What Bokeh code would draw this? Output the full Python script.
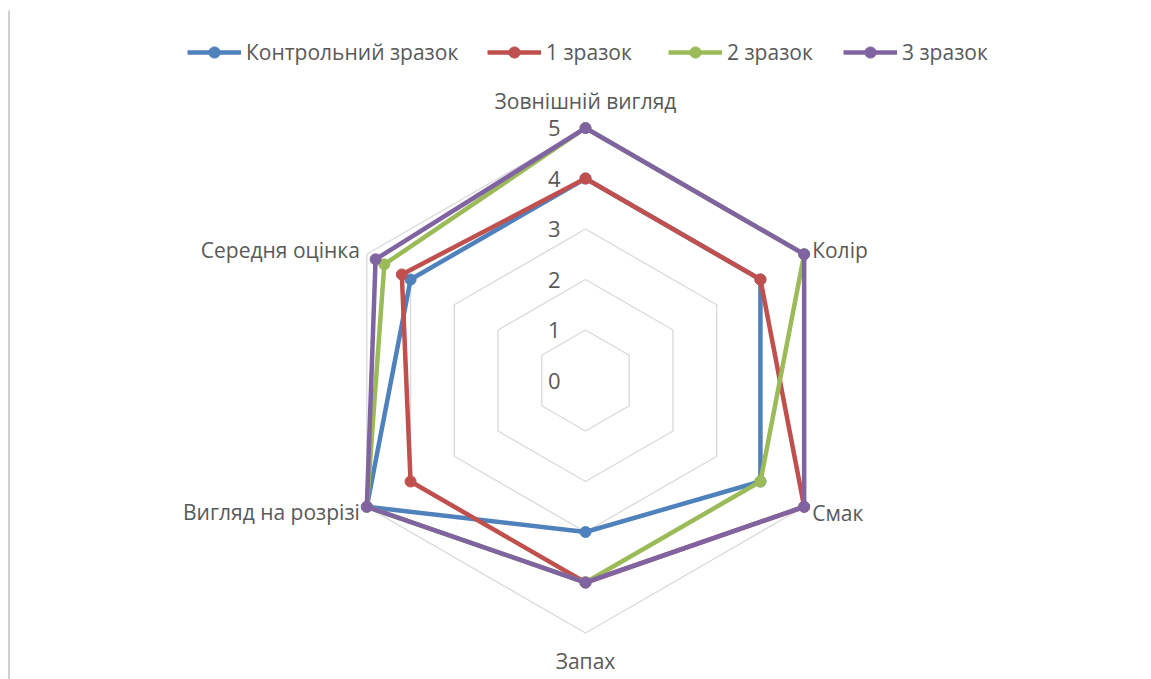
import numpy as np
from bokeh.plotting import figure
from bokeh.models import Legend, LegendItem, ColumnDataSource, Range1d
from bokeh.embed import file_html
from bokeh.resources import INLINE
from bokeh.core.properties import value

# Sensory evaluation scores per criterion
categories = ["Зовнішній вигляд", "Колір", "Смак", "Запах", "Вигляд на розрізі", "Середня оцінка"]
series_names = ["Контрольний зразок", "1 зразок", "2 зразок", "3 зразок"]
control = [4, 4, 4, 3, 5, 4.0]
sample1 = [4, 4, 5, 4, 4, 4.2]
sample2 = [5, 5, 4, 4, 5, 4.6]
sample3 = [5, 5, 5, 4, 5, 4.8]
tick_values = [0, 1, 2, 3, 4, 5]
colors = ["#4F81BD", "#C0504D", "#9BBB59", "#8064A2"]

FONT = "Open Sans"
TEXT_COLOR = "#595959"
GRID_COLOR = "#D9D9D9"

W, H = 1151, 679
CX, CY = 585, 380          # centre of the radar in pixels
S = 50.5                   # pixels per score unit

p = figure(width=W, height=H, output_backend="svg", toolbar_location=None,
           x_range=Range1d(-CX / S, (W - CX) / S),
           y_range=Range1d(-(H - CY) / S, CY / S),
           x_axis_type=None, y_axis_type=None, min_border=0,
           outline_line_color=None, background_fill_color="white",
           border_fill_color="white")
p.grid.visible = False

n = len(categories)
theta = np.pi / 2 - np.arange(n) * 2 * np.pi / n
cos_t, sin_t = np.cos(theta), np.sin(theta)

# left edge of the chart frame
p.segment(x0=[(8.5 - CX) / S], y0=[(CY - 10) / S], x1=[(8.5 - CX) / S], y1=[-(H - CY) / S - 1],
          line_color="#D0D0D0", line_width=2)

# hexagonal grid rings
for v in tick_values[1:]:
    xs = list(v * cos_t) + [v * cos_t[0]]
    ys = list(v * sin_t) + [v * sin_t[0]]
    p.line(xs, ys, line_color=GRID_COLOR, line_width=1.3)

# series
items = []
for name, vals, col in zip(series_names, [control, sample1, sample2, sample3], colors):
    vals = np.array(vals, dtype=float)
    xs = list(vals * cos_t) + [vals[0] * cos_t[0]]
    ys = list(vals * sin_t) + [vals[0] * sin_t[0]]
    r1 = p.line(xs, ys, line_color=col, line_width=4.5, line_join="round")
    r2 = p.scatter(vals * cos_t, vals * sin_t, size=11, fill_color=col, line_color=col)
    items.append(LegendItem(label=name, renderers=[r1, r2]))

# tick labels along the top spoke
p.text(x=[0] * len(tick_values), y=tick_values, text=[str(t) for t in tick_values],
       x_offset=-25, text_align="right", text_baseline="middle",
       text_font=value(FONT), text_font_size="22px", text_color=TEXT_COLOR)

# category labels around the outer ring
R = max(tick_values)
aligns, xoffs, yoffs = [], [], []
for c, s in zip(cos_t, sin_t):
    if abs(c) < 1e-6:
        aligns.append("center"); xoffs.append(0); yoffs.append(-27 if s > 0 else 28)
    elif c > 0:
        aligns.append("left"); xoffs.append(8); yoffs.append(-4 if s > 0 else 6)
    else:
        aligns.append("right"); xoffs.append(-7); yoffs.append(-4 if s > 0 else 5)
src = ColumnDataSource(dict(x=R * cos_t, y=R * sin_t, text=categories,
                            align=aligns, xo=xoffs, yo=yoffs))
p.text(x="x", y="y", text="text", source=src, x_offset="xo", y_offset="yo",
       text_align="align", text_baseline="middle",
       text_font=value(FONT), text_font_size="21px", text_color=TEXT_COLOR)

# one legend entry per series, laid out in a row across the top
legend_x = [187, 487, 668, 843]
for item, lx in zip(items, legend_x):
    lg = Legend(items=[item], orientation="horizontal", location=(lx, 613),
                glyph_width=54, glyph_height=28, label_standoff=5,
                padding=0, margin=0, border_line_alpha=0, background_fill_alpha=0,
                label_text_font=FONT, label_text_font_size="21px",
                label_text_color=TEXT_COLOR)
    p.add_layout(lg, "center")

open("out.html", "w").write(file_html(p, INLINE))
